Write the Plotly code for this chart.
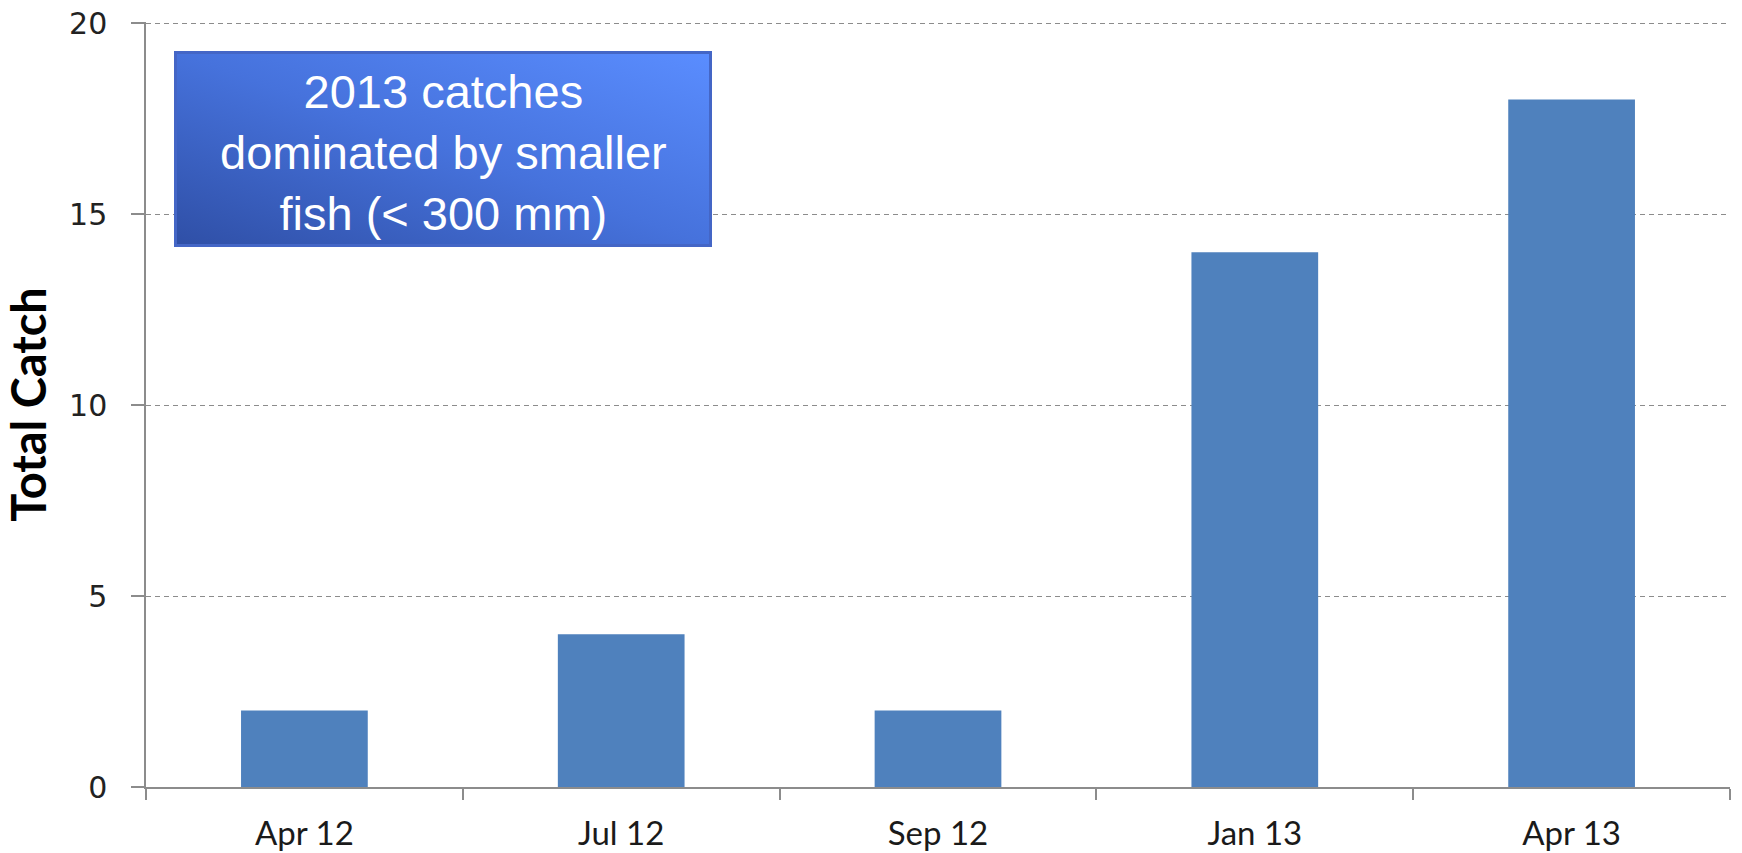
import base64
import plotly.graph_objects as go

categories = ["Apr 12", "Jul 12", "Sep 12", "Jan 13", "Apr 13"]
total_catch = [2, 4, 2, 14, 18]
y_ticks = [0, 5, 10, 15, 20]
note_text = "2013 catches<br>dominated by smaller<br>fish (< 300 mm)"

W, H = 1742, 853
L, R, T, B = 146, 12, 22, 66

fig = go.Figure()
fig.add_trace(go.Bar(
    x=categories, y=total_catch,
    marker=dict(color="#4f81bd", line=dict(width=0)),
    width=0.4,
))

fig.update_layout(
    width=W, height=H,
    margin=dict(l=L, r=R, t=T, b=B, pad=0),
    paper_bgcolor="white", plot_bgcolor="white",
    showlegend=False,
    xaxis=dict(
        type="category", automargin=False,
        showline=True, linecolor="#8c8c8c", linewidth=1.5,
        ticks="outside", tickson="boundaries", ticklen=11, tickcolor="#8c8c8c", tickwidth=1.5,
        ticklabelstandoff=17, ticklabeloverflow="allow",
        tickfont=dict(family="Lato, Liberation Sans, sans-serif", size=33, color="#1a1a1a"),
        showgrid=False,
    ),
    yaxis=dict(
        range=[0, 20.03], tickvals=y_ticks, automargin=False,
        showline=True, linecolor="#8c8c8c", linewidth=1.5,
        ticks="outside", ticklen=13, tickcolor="#8c8c8c", tickwidth=1.5,
        ticklabelstandoff=18, ticklabeloverflow="allow",
        tickfont=dict(family="DejaVu Sans, Verdana, sans-serif", size=30, color="#222222"),
        showgrid=True, gridcolor="#8c8c8c", griddash="5px,4px", gridwidth=1.2,
        zeroline=False,
        title=dict(text="<b>Total Catch</b>", standoff=31,
                   font=dict(family="Lato, Liberation Sans, sans-serif", size=47, color="black")),
    ),
)

def px(x):
    return (x - L) / (W - L - R)

def py(y):
    return 1 - (y - T) / (H - T - B)

bx0, bx1, by0, by1 = 174, 712, 51, 247
svg = (
    '<svg xmlns="http://www.w3.org/2000/svg" width="538" height="196" viewBox="0 0 538 196" preserveAspectRatio="none">'
    '<defs><linearGradient id="g" x1="0" y1="1" x2="1" y2="0">'
    '<stop offset="0" stop-color="#2f4fa6"/>'
    '<stop offset="0.5" stop-color="#4672dc"/>'
    '<stop offset="1" stop-color="#5a8dff"/>'
    '</linearGradient></defs>'
    '<rect x="1.5" y="1.5" width="535" height="193" fill="url(#g)" stroke="#4466c6" stroke-width="3"/>'
    '</svg>'
)
src = "data:image/svg+xml;base64," + base64.b64encode(svg.encode()).decode()
fig.add_layout_image(dict(
    source=src, xref="paper", yref="paper",
    x=px(bx0), y=py(by0), sizex=px(bx1) - px(bx0), sizey=py(by0) - py(by1),
    xanchor="left", yanchor="top", sizing="stretch", layer="above",
))
fig.add_annotation(xref="paper", yref="paper", x=px((bx0 + bx1) / 2), y=py((by0 + by1) / 2 + 3),
                   text=note_text, showarrow=False,
                   font=dict(family="Liberation Sans, Arial, sans-serif", size=47, color="white"),
                   align="center", xanchor="center", yanchor="middle")

fig.write_html("out.html",
               config={"displayModeBar": False},
               post_script="document.body.style.margin='0';document.body.style.overflow='hidden';")
